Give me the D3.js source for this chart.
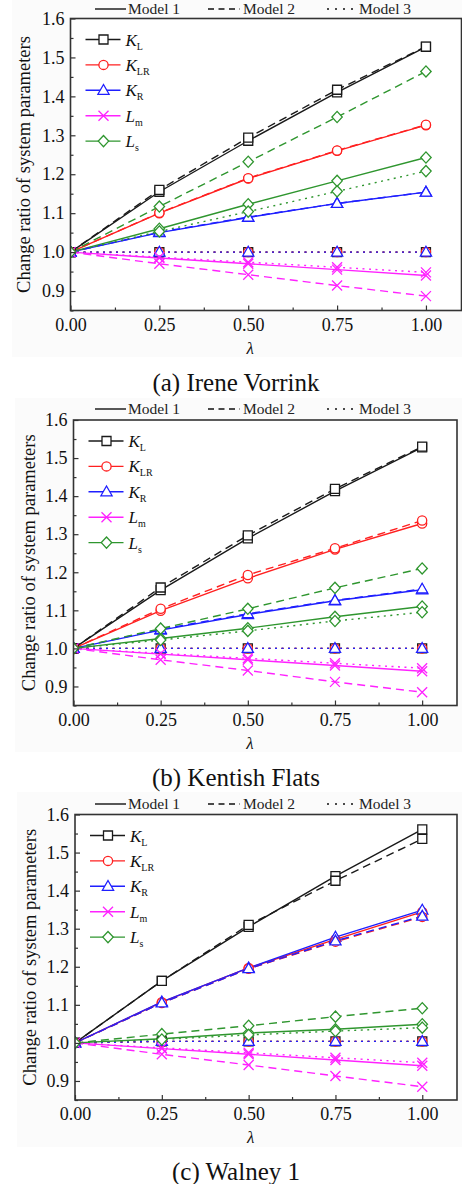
<!DOCTYPE html>
<html><head><meta charset="utf-8">
<script src="https://cdn.jsdelivr.net/npm/d3@7"></script>
<style>
html,body{margin:0;padding:0;background:#fff;}
svg{display:block;}
svg text{font-family:"Liberation Serif","Times New Roman",serif !important;}
</style></head>
<body>
<svg id="chart" width="462" height="1184"></svg>
<script>
// ---------------- data ----------------
const lambda = [0, 0.25, 0.5, 0.75, 1.0];
const xTicks = [0, 0.25, 0.5, 0.75, 1.0];
const yTicks = [0.9, 1.0, 1.1, 1.2, 1.3, 1.4, 1.5, 1.6];
const paramKeys = ["KL", "KLR", "KR", "Lm", "Ls"];
const paramMain = ["K", "K", "K", "L", "L"];
const paramSub = ["L", "LR", "R", "m", "s"];
const modelNames = ["Model 1", "Model 2", "Model 3"];
const panelTitles = ["(a) Irene Vorrink", "(b) Kentish Flats", "(c) Walney 1"];

// (a) Irene Vorrink
const ireneModel1 = {KL:[1,1.155,1.286,1.410,1.527], KLR:[1,1.100,1.189,1.260,1.326], KR:[1,1.050,1.089,1.125,1.154], Lm:[1,0.985,0.970,0.955,0.940], Ls:[1,1.060,1.123,1.183,1.243]};
const ireneModel2 = {KL:[1,1.160,1.294,1.417,1.528], KLR:[1,1.101,1.190,1.261,1.327], KR:[1,1.051,1.090,1.125,1.154], Lm:[1,0.970,0.942,0.914,0.887], Ls:[1,1.117,1.232,1.347,1.464]};
const ireneModel3 = {KL:[1,1,1,1,1], KLR:[1,1,1,1,1], KR:[1,1,1,1,1], Lm:[1,0.987,0.974,0.961,0.948], Ls:[1,1.053,1.104,1.156,1.208]};
// (b) Kentish Flats
const kentishModel1 = {KL:[1,1.153,1.289,1.413,1.528], KLR:[1,1.099,1.184,1.260,1.328], KR:[1,1.048,1.089,1.125,1.154], Lm:[1,0.985,0.970,0.955,0.940], Ls:[1,1.026,1.053,1.083,1.110]};
const kentishModel2 = {KL:[1,1.160,1.297,1.419,1.530], KLR:[1,1.104,1.193,1.263,1.336], KR:[1,1.050,1.091,1.126,1.156], Lm:[1,0.970,0.942,0.912,0.885], Ls:[1,1.052,1.104,1.159,1.210]};
const kentishModel3 = {KL:[1,1,1,1,1], KLR:[1,1,1,1,1], KR:[1,1,1,1,1], Lm:[1,0.987,0.974,0.961,0.948], Ls:[1,1.022,1.046,1.072,1.095]};
// (c) Walney 1
const walneyModel1 = {KL:[1,1.163,1.305,1.438,1.561], KLR:[1,1.107,1.197,1.272,1.344], KR:[1,1.108,1.197,1.278,1.349], Lm:[1,0.985,0.970,0.955,0.940], Ls:[1,1.011,1.026,1.036,1.049]};
const walneyModel2 = {KL:[1,1.163,1.310,1.426,1.536], KLR:[1,1.105,1.195,1.266,1.331], KR:[1,1.105,1.195,1.268,1.333], Lm:[1,0.970,0.942,0.913,0.885], Ls:[1,1.023,1.045,1.069,1.091]};
const walneyModel3 = {KL:[1,1.004,1.004,1.004,1.004], KLR:[1,1.004,1.004,1.004,1.004], KR:[1,1.004,1.004,1.004,1.004], Lm:[1,0.987,0.974,0.961,0.948], Ls:[1,1.009,1.021,1.031,1.040]};

const panelData = [
  [ireneModel1, ireneModel2, ireneModel3],
  [kentishModel1, kentishModel2, kentishModel3],
  [walneyModel1, walneyModel2, walneyModel3]
];

// ---------------- style / layout ----------------
const FONT = '"Liberation Serif","Times New Roman",serif';
const colors = {KL:"#1a1a1a", KLR:"#ff2020", KR:"#1f1fff", Lm:"#ff22ff", Ls:"#2f962f"};
const dashes = [null, "8,5", "2,4.5"];
const layout = [
  {left:70.5, right:461.5, top:18.5, bottom:310.5, legY:14, ytx:24, bg:[12,0,450,357]},
  {left:73.5, right:457,   top:420,  bottom:705.5, legY:414, ytx:29, bg:[15,398,447,354]},
  {left:75,   right:457,   top:814.5, bottom:1100, legY:809, ytx:30, bg:[17,792,445,355]}
];

const svg = d3.select("#chart");

function markerPath(key){
  switch(key){
    case "KL": return "M-4.5,-4.5H4.5V4.5H-4.5Z";
    case "KR": return "M0,-5.8L5.6,4L-5.6,4Z";
    case "Lm": return "M-5,-5L5,5M5,-5L-5,5";
    case "Ls": return "M0,-5.6L5.2,0L0,5.6L-5.2,0Z";
  }
  return null;
}
function drawMarker(g, key, x, y){
  if(key === "KLR"){
    g.append("circle").attr("cx",x).attr("cy",y).attr("r",4.6)
      .attr("fill","#fff").attr("stroke",colors[key]).attr("stroke-width",1.3);
  } else {
    g.append("path").attr("d",markerPath(key)).attr("transform",`translate(${x},${y})`)
      .attr("fill", key==="Lm" ? "none" : "#fff")
      .attr("stroke",colors[key]).attr("stroke-width",1.3);
  }
}

layout.forEach((L, pi) => {
  const g = svg.append("g").style("font-family", FONT);
  // very light figure background
  g.append("rect").attr("x",L.bg[0]).attr("y",L.bg[1]).attr("width",L.bg[2]).attr("height",L.bg[3]).attr("fill","#fbfbfb");
  g.append("rect").attr("x",L.left).attr("y",L.top).attr("width",L.right-L.left).attr("height",L.bottom-L.top).attr("fill","#fff");

  const x = d3.scaleLinear().domain([0,1.1]).range([L.left, L.right]);
  const y = d3.scaleLinear().domain([0.85,1.6]).range([L.bottom, L.top]);

  const clipId = "clip"+pi;
  g.append("clipPath").attr("id",clipId).append("rect")
    .attr("x",L.left).attr("y",L.top).attr("width",L.right-L.left).attr("height",L.bottom-L.top);
  const plot = g.append("g").attr("clip-path",`url(#${clipId})`);

  // series
  panelData[pi].forEach((model, mi) => {
    paramKeys.forEach(k => {
      const vals = model[k];
      const line = d3.line().x((d,i)=>x(lambda[i])).y(d=>y(d));
      plot.append("path").datum(vals).attr("d",line)
        .attr("fill","none").attr("stroke",colors[k]).attr("stroke-width",1.4)
        .attr("stroke-dasharray",dashes[mi]);
    });
    paramKeys.forEach(k => {
      model[k].forEach((v,i)=> drawMarker(plot, k, x(lambda[i]), y(v)));
    });
  });

  // axes
  const axCol = "#333";
  const xAxis = g.append("g").attr("transform",`translate(0,${L.bottom})`)
    .call(d3.axisBottom(x).tickValues(xTicks).tickFormat(d3.format(".2f")).tickSizeInner(-5).tickSizeOuter(0).tickPadding(7.7));
  const xMinor = g.append("g").attr("transform",`translate(0,${L.bottom})`)
    .call(d3.axisBottom(x).tickValues([0.125,0.375,0.625,0.875]).tickFormat("").tickSizeInner(-3).tickSizeOuter(0));
  const yAxis = g.append("g").attr("transform",`translate(${L.left},0)`)
    .call(d3.axisLeft(y).tickValues(yTicks).tickFormat(d3.format(".1f")).tickSizeInner(-5).tickSizeOuter(0).tickPadding(6));
  const yMinor = g.append("g").attr("transform",`translate(${L.left},0)`)
    .call(d3.axisLeft(y).tickValues([0.85,0.95,1.05,1.15,1.25,1.35,1.45,1.55]).tickFormat("").tickSizeInner(-3).tickSizeOuter(0));
  [xAxis,xMinor,yAxis,yMinor].forEach(a=>{
    a.attr("font-family", FONT);
    a.select(".domain").remove();
    a.selectAll(".tick line").attr("stroke",axCol).attr("stroke-width",1.2);
    a.selectAll("text").style("font-family",FONT).attr("font-size",18).attr("fill","#111");
  });
  // frame
  g.append("rect").attr("x",L.left).attr("y",L.top).attr("width",L.right-L.left).attr("height",L.bottom-L.top)
    .attr("fill","none").attr("stroke",axCol).attr("stroke-width",1.6);

  // axis titles
  g.append("text").attr("transform",`translate(${L.ytx+6},${(L.top+L.bottom)/2}) rotate(-90)`)
    .attr("text-anchor","middle").attr("font-size",18.5).attr("fill","#111")
    .text("Change ratio of system parameters");
  g.append("text").attr("x",x(0.5)+2).attr("y",L.bottom+43).attr("text-anchor","middle")
    .attr("font-size",17).attr("font-style","italic").attr("fill","#111").text("λ");
  g.append("text").attr("x",236).attr("y",L.bottom+80).attr("text-anchor","middle")
    .attr("font-size",25).attr("fill","#111").text(panelTitles[pi]);

  // top legend (line styles)
  const legItems = [{x1:95,x2:126,tx:128},{x1:208,x2:240,tx:243},{x1:327,x2:354,tx:359}];
  legItems.forEach((it,mi)=>{
    g.append("line").attr("x1",it.x1).attr("x2",it.x2).attr("y1",L.legY-5).attr("y2",L.legY-5)
      .attr("stroke","#111").attr("stroke-width",1.4).attr("stroke-dasharray", mi===0?null:(mi===1?"6,4.5":"2,6"));
    g.append("text").attr("x",it.tx).attr("y",L.legY).attr("font-size",15.5).attr("fill","#222").text(modelNames[mi]);
  });

  // inner legend (markers)
  paramKeys.forEach((k,i)=>{
    const ly = L.top + 21 + i*25.4;
    g.append("line").attr("x1",L.left+15).attr("x2",L.left+50).attr("y1",ly).attr("y2",ly)
      .attr("stroke",colors[k]).attr("stroke-width",1.4);
    drawMarker(g, k, L.left+33, ly);
    const t = g.append("text").attr("x",L.left+55).attr("y",ly+6).attr("font-size",17).attr("fill","#111");
    t.append("tspan").attr("font-style","italic").text(paramMain[i]);
    t.append("tspan").attr("font-size",10).attr("dy",4).text(paramSub[i]);
  });
});
</script>
</body></html>
